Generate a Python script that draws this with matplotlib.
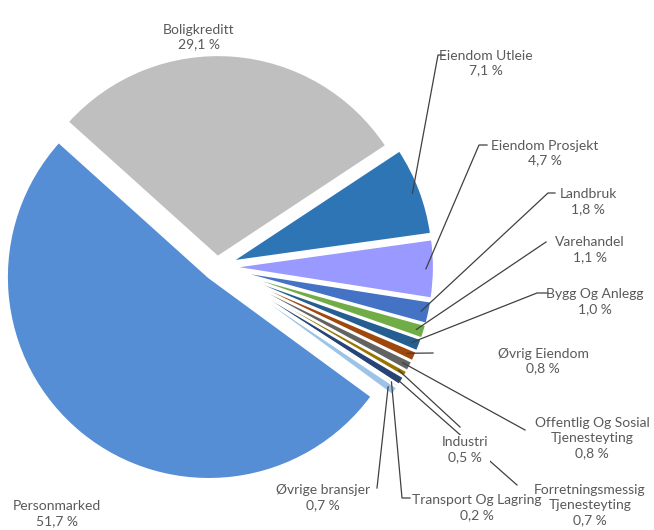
import numpy as np
import matplotlib
matplotlib.use("Agg")
import matplotlib.pyplot as plt

# data, clockwise from Boligkreditt
names = ['Boligkreditt', 'Eiendom Utleie', 'Eiendom Prosjekt', 'Landbruk', 'Varehandel',
         'Bygg Og Anlegg', 'Øvrig Eiendom', 'Offentlig Og Sosial\nTjenesteyting', 'Industri',
         'Forretningsmessig\nTjenesteyting', 'Transport Og Lagring', 'Øvrige bransjer',
         'Personmarked']
shares = [29.1, 7.1, 4.7, 1.8, 1.1, 1.0, 0.8, 0.8, 0.5, 0.7, 0.2, 0.7, 51.7]
colors = ['#BFBFBF', '#2E75B6', '#9999FF', '#4472C4', '#70AD47', '#255E91', '#9E480E',
          '#636363', '#997300', '#264478', '#A9C99B', '#9DC3E6', '#558ED5']

H = 530.0
def iy(y):
    # picture y (top down) -> axes y
    return H - y

fig = plt.figure(figsize=(6.54, 5.30), dpi=100)
ax = fig.add_axes([0, 0, 1, 1])

expl = [10] + [15] * 11 + [13]
wedges, _ = ax.pie(shares, colors=colors, startangle=138, counterclock=False,
                   radius=202, center=(217, iy(267)), explode=expl,
                   wedgeprops=dict(edgecolor='white', linewidth=1.6))
ax.set_xlim(0, 654)
ax.set_ylim(0, H)
ax.axis('off')

# label layout: text centre and leader line points (picture coords)
layout = {
    'Boligkreditt': ((199, 37), None),
    'Eiendom Utleie': ((486, 63), [(438, 55), (445, 55)]),
    'Eiendom Prosjekt': ((545, 153), [(479, 145), (487, 145)]),
    'Landbruk': ((588, 202), [(548, 193), (555, 193)]),
    'Varehandel': ((590, 250), [(546, 242)]),
    'Bygg Og Anlegg': ((595, 302), [(537, 293), (548, 293)]),
    'Øvrig Eiendom': ((543, 361), [(433, 353)]),
    'Offentlig Og Sosial\nTjenesteyting': ((592, 438), [(525, 430)]),
    'Industri': ((465, 450), [(460, 427)]),
    'Forretningsmessig\nTjenesteyting': ((590, 505), [(517, 485)]),
    'Transport Og Lagring': ((477, 508), [(402, 498), (410, 498)]),
    'Øvrige bransjer': ((323, 498), [(377, 488)]),
    'Personmarked': ((57, 514), None),
}

txt = dict(family=['Lato', 'DejaVu Sans'], fontsize=10, color='#595959',
           ha='center', va='center', linespacing=1.3)

for w, name, v in zip(wedges, names, shares):
    (tx, ty), pts = layout[name]
    if pts:
        mid = np.deg2rad((w.theta1 + w.theta2) / 2)
        sx = w.center[0] + 0.96 * w.r * np.cos(mid)
        sy = w.center[1] + 0.96 * w.r * np.sin(mid)
        xs = [sx] + [p[0] for p in pts]
        ys = [sy] + [iy(p[1]) for p in pts]
        ax.plot(xs, ys, color='#404040', lw=0.9, zorder=3)
    label = name + '\n' + f'{v:.1f}'.replace('.', ',') + ' %'
    bbox = None
    if name == 'Industri':
        bbox = dict(facecolor='white', edgecolor='none', pad=1)
    ax.text(tx, iy(ty), label, zorder=4, bbox=bbox, **txt)

fig.savefig('out.png', dpi=100)
